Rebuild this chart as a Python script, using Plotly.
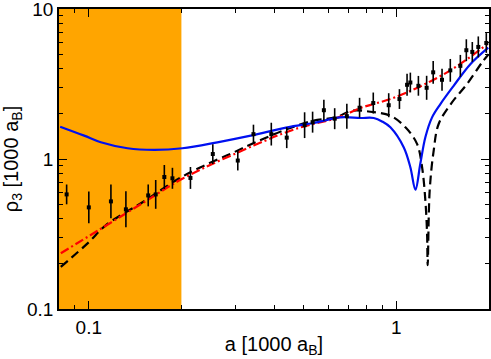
import numpy as np
import plotly.graph_objects as go

# measured points (a in 1000 a_B, rho_3 in 1000 a_B, half error bar in decades)
a_data = [0.0847, 0.100, 0.118, 0.132, 0.156, 0.165, 0.176, 0.187, 0.214,
          0.253, 0.305, 0.343, 0.392, 0.440, 0.503, 0.534, 0.581, 0.630,
          0.690, 0.759, 0.841, 0.944, 1.023, 1.083, 1.110, 1.179, 1.254,
          1.317, 1.407, 1.497, 1.614, 1.688, 1.765, 1.846, 1.960]
rho_data = [0.581, 0.476, 0.522, 0.462, 0.572, 0.581, 0.759, 0.744, 0.748,
            1.080, 0.977, 1.466, 1.466, 1.389, 1.682, 1.762, 2.116, 1.858,
            1.931, 2.199, 2.363, 2.285, 2.512, 3.126, 3.238, 3.078, 2.986,
            3.786, 3.376, 3.903, 4.181, 5.317, 5.180, 5.591, 5.943]
log_err = [0.066, 0.106, 0.113, 0.120, 0.073, 0.096, 0.080, 0.070, 0.073,
           0.066, 0.066, 0.063, 0.076, 0.070, 0.086, 0.070, 0.070, 0.070,
           0.083, 0.066, 0.070, 0.080, 0.066, 0.073, 0.066, 0.066, 0.080,
           0.076, 0.073, 0.076, 0.073, 0.073, 0.066, 0.070, 0.066]

# blue solid curve
a_blue = [0.0807, 0.0966, 0.1094, 0.1336, 0.163, 0.2014, 0.2618, 0.336, 0.4417,
          0.5377, 0.658, 0.764, 0.844, 0.901, 0.956, 1.056, 1.110, 1.153,
          1.196, 1.242, 1.306, 1.390, 1.535, 1.739, 1.989]
rho_blue = [1.644, 1.432, 1.293, 1.18, 1.151, 1.18, 1.293, 1.432, 1.627,
            1.740, 1.896, 1.878, 1.878, 1.775, 1.627, 1.198, 0.882, 0.624,
            0.929, 1.396, 1.896, 2.327, 3.078, 4.291, 5.532]

# black dashed curve
a_black = [0.0811, 0.1002, 0.1135, 0.153, 0.1916, 0.231, 0.289, 0.3484, 0.4417,
           0.5385, 0.634, 0.718, 0.823, 0.956, 1.070, 1.167, 1.212, 1.242,
           1.258, 1.264, 1.283, 1.322, 1.372, 1.516, 1.696, 1.897, 1.994]
rho_black = [0.191, 0.280, 0.3615, 0.530, 0.720, 0.882, 1.083, 1.293, 1.587,
             1.803, 1.896, 2.101, 2.068, 1.945, 1.627, 1.262, 0.882, 0.530,
             0.318, 0.196, 0.618, 1.139, 1.713, 2.385, 3.16, 4.397, 5.0]

# red dash-dot curve
a_red = [0.0811, 0.100, 0.116, 0.153, 0.2014, 0.3434, 0.470, 0.648, 0.764,
         0.990, 1.466, 1.974]
rho_red = [0.2355, 0.306, 0.369, 0.523, 0.739, 1.229, 1.587, 1.896, 2.190,
           2.580, 3.800, 5.83]

shade_lo, shade_hi = 0.08, 0.2

rho = np.array(rho_data)
d = np.array(log_err)
err_up = rho * (10 ** d - 1)
err_dn = rho * (1 - 10 ** -d)

font = dict(family="Liberation Sans, Arial", size=19, color="black")
title_font = dict(family="Liberation Sans, Arial", size=20, color="black")

fig = go.Figure()
fig.add_shape(type="rect", xref="x", yref="paper", x0=shade_lo, x1=shade_hi,
              y0=0, y1=1, fillcolor="#FFA500", line_width=0, layer="below")

fig.add_trace(go.Scatter(x=a_black, y=rho_black, mode="lines",
                         line=dict(color="black", width=2.2, dash="9px,5px"),
                         line_shape="spline", showlegend=False))
fig.add_trace(go.Scatter(x=a_red, y=rho_red, mode="lines",
                         line=dict(color="red", width=2.2, dash="9px,3px,2px,3px"),
                         line_shape="spline", showlegend=False))
fig.add_trace(go.Scatter(x=a_blue, y=rho_blue, mode="lines",
                         line=dict(color="#0010F0", width=2.2),
                         line_shape="spline", showlegend=False))
fig.add_trace(go.Scatter(x=a_data, y=rho_data, mode="markers",
                         marker=dict(color="black", size=4, symbol="square"),
                         error_y=dict(type="data", symmetric=False, array=err_up,
                                      arrayminus=err_dn, color="black",
                                      thickness=1.6, width=0),
                         showlegend=False))

axis_common = dict(type="log", showgrid=False, zeroline=False, showline=True,
                   linecolor="black", linewidth=1.5, mirror="ticks",
                   ticks="inside", ticklen=8, tickwidth=1.2, tickcolor="black",
                   tickfont=font, automargin=False, ticklabeloverflow="allow",
                   minor=dict(ticks="inside", ticklen=4, tickwidth=1, tickcolor="black",
                              dtick="D1", showgrid=False))

fig.update_xaxes(range=[np.log10(0.08), np.log10(2.0)],
                 tickvals=[0.1, 1], ticktext=["0.1", "1"],
                 title=dict(text="a [1000 a<sub>B</sub>]", standoff=0, font=title_font),
                 **axis_common)
fig.update_yaxes(range=[-1, 1.0005],
                 tickvals=[0.1, 1, 10], ticktext=["0.1", "1", "10"],
                 title=dict(text="ρ<sub>3</sub> [1000 a<sub>B</sub>]", standoff=4, font=title_font),
                 **axis_common)

fig.update_layout(width=491, height=359, margin=dict(l=59, r=2, t=9, b=50),
                  plot_bgcolor="white", paper_bgcolor="white")

# page body has a default 8px margin; drop it so the figure fills the window
fig.write_html("out.html", config={"displayModeBar": False},
               post_script="document.body.style.margin='0';")
